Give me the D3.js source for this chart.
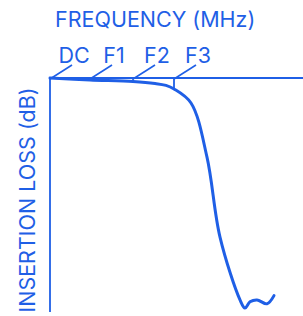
<!DOCTYPE html>
<html><head><meta charset="utf-8">
<script src="https://cdn.jsdelivr.net/npm/d3@7"></script>
<style>html,body{margin:0;padding:0;background:#fff;}svg{display:block;}</style>
</head><body>
<script>
const tickLabels = ["DC", "F1", "F2", "F3"];
const tickFreqs = [0, 40, 83, 124];
const curveFreq = [0, 40, 83, 105, 116, 124, 141, 157, 170, 190, 195, 200, 207, 217, 224];
const curveLoss = [0, 0.5, 0.9, 1.4, 1.9, 2.8, 6.4, 20.3, 40.8, 56.9, 59.0, 57.4, 56.9, 57.9, 55.8];
const xTitle = "FREQUENCY (MHz)";
const yTitle = "INSERTION LOSS (dB)";

const W = 303, H = 316, blue = "#1f5fe6";
const font = "Inter, 'Noto Sans', sans-serif";
const svg = d3.select("body").append("svg").attr("width", W).attr("height", H);
const x = d3.scaleLinear().domain([0, 253]).range([50, 303]);
const y = d3.scaleLinear().domain([0, 60]).range([78, 312]);

// axes
svg.append("line").attr("x1", x(0)).attr("x2", W).attr("y1", y(0)).attr("y2", y(0))
  .attr("stroke", blue).attr("stroke-width", 1.8);
svg.append("line").attr("x1", x(0)).attr("x2", x(0)).attr("y1", y(0)).attr("y2", y(60))
  .attr("stroke", blue).attr("stroke-width", 1.8);

// leaders & labels
tickFreqs.forEach((f, i) => {
  const tx = x(f);
  svg.append("line").attr("x1", tx).attr("y1", y(0) + 1).attr("x2", tx + 22).attr("y2", 65)
    .attr("stroke", blue).attr("stroke-width", 1.6);
  svg.append("text").attr("x", tx + 24).attr("y", 63).attr("text-anchor", "middle")
    .attr("font-family", font).attr("font-size", 21.5).attr("fill", blue).text(tickLabels[i]);
});
// small tick marks at F2 and F3
svg.append("line").attr("x1", x(83)).attr("x2", x(83)).attr("y1", y(0)).attr("y2", y(0) + 4)
  .attr("stroke", blue).attr("stroke-width", 1.6);
svg.append("line").attr("x1", x(124)).attr("x2", x(124)).attr("y1", y(0)).attr("y2", y(2.8))
  .attr("stroke", blue).attr("stroke-width", 1.8);

// curve
const pts = curveFreq.map((f, i) => [f, curveLoss[i]]);
svg.append("path").datum(pts)
  .attr("d", d3.line().x(d => x(d[0])).y(d => y(d[1])).curve(d3.curveCatmullRom.alpha(0.5)))
  .attr("fill", "none").attr("stroke", blue).attr("stroke-width", 3)
  .attr("stroke-linejoin", "round").attr("stroke-linecap", "round");

// titles
svg.append("text").attr("x", 55).attr("y", 27).attr("font-family", font).attr("font-size", 21.5)
  .attr("fill", blue).text(xTitle);
svg.append("text").attr("transform", "translate(35,200) rotate(-90)").attr("text-anchor", "middle")
  .attr("font-family", font).attr("font-size", 21.5).attr("fill", blue).text(yTitle);
</script>
</body></html>
